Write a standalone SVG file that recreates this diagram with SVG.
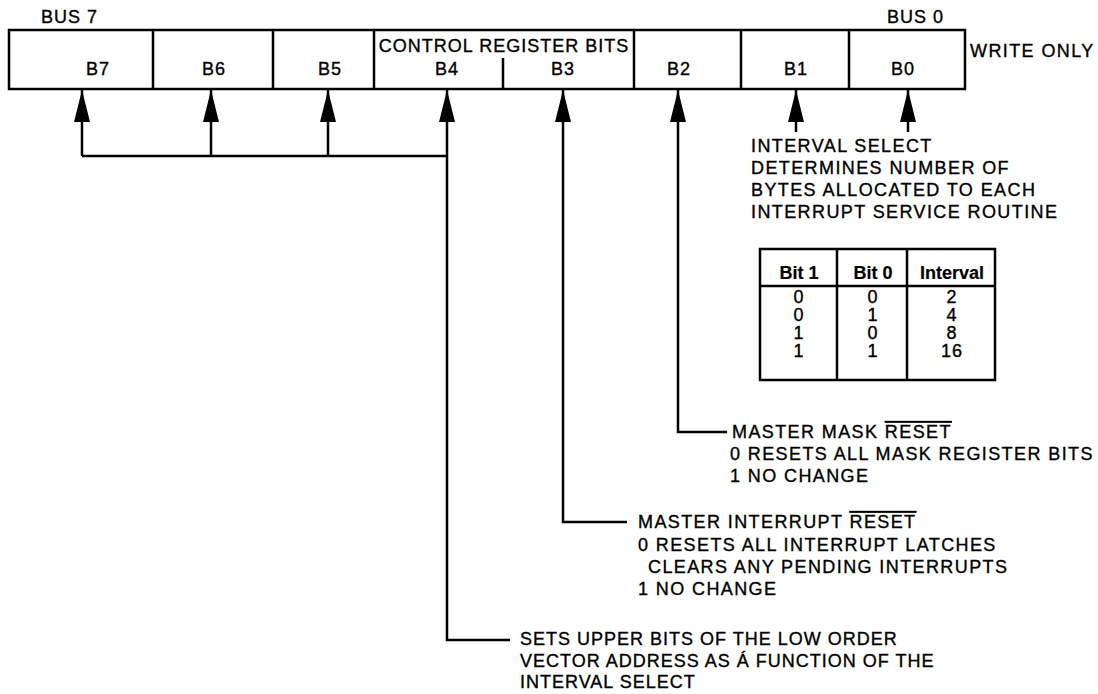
<svg xmlns="http://www.w3.org/2000/svg" width="1098" height="694" viewBox="0 0 1098 694">
<style>
text{font-family:"Liberation Sans",Arial,Helvetica,sans-serif;font-size:18px;fill:#000;stroke:#000;stroke-width:0.35;letter-spacing:1px}
.c{text-anchor:middle}
.b{font-weight:bold;letter-spacing:0;stroke-width:0.2}
.wide{letter-spacing:1.4px}
.box{fill:#fff;stroke:#000;stroke-width:2.5}
.ln{fill:none;stroke:#000;stroke-width:2.5}
.w{fill:none;stroke:#000;stroke-width:2.5}
.ov{text-decoration:overline}
</style>
<defs>
<marker id="ah" markerUnits="userSpaceOnUse" markerWidth="34" markerHeight="18" viewBox="0 -9 34 18" refX="32" refY="0" orient="auto">
<path d="M0,-8 L32,0 L0,8 z" fill="#000"/>
</marker>
</defs>
<rect width="1098" height="694" fill="#fff"/>

<g id="register">
<rect class="box" x="9" y="30" width="956" height="59"/>
<text x="41" y="23">BUS 7</text>
<text x="887" y="23">BUS 0</text>
<text x="970" y="57" class="wide">WRITE ONLY</text>
<text class="c" x="504" y="52">CONTROL REGISTER BITS</text>
</g>
<g id="bit7"><text class="c" x="98" y="75">B7</text></g>
<g id="bit6"><line class="w" x1="153" y1="30" x2="153" y2="89"/><text class="c" x="214" y="75">B6</text></g>
<g id="bit5"><line class="w" x1="273" y1="30" x2="273" y2="89"/><text class="c" x="330" y="75">B5</text></g>
<g id="bit4"><line class="w" x1="374" y1="30" x2="374" y2="89"/><text class="c" x="447" y="75">B4</text></g>
<g id="bit3"><line class="w" x1="503" y1="58" x2="503" y2="89"/><text class="c" x="563" y="75">B3</text></g>
<g id="bit2"><line class="w" x1="634" y1="30" x2="634" y2="89"/><text class="c" x="679" y="75">B2</text></g>
<g id="bit1"><line class="w" x1="741" y1="30" x2="741" y2="89"/><text class="c" x="796" y="75">B1</text></g>
<g id="bit0"><line class="w" x1="849" y1="30" x2="849" y2="89"/><text class="c" x="903" y="75">B0</text></g>

<g id="connectors">
<path class="ln" d="M82,156 V90" marker-end="url(#ah)"/>
<path class="ln" d="M211,156 V90" marker-end="url(#ah)"/>
<path class="ln" d="M328,156 V90" marker-end="url(#ah)"/>
<path class="ln" d="M82,156 H447"/>
<path class="ln" d="M510,640 H447 V90" marker-end="url(#ah)"/>
<path class="ln" d="M627,522 H563 V90" marker-end="url(#ah)"/>
<path class="ln" d="M727,432 H678 V90" marker-end="url(#ah)"/>
<path class="ln" d="M796,132 V90" marker-end="url(#ah)"/>
<path class="ln" d="M908,132 V90" marker-end="url(#ah)"/>
</g>

<g id="interval-select" class="wide">
<text x="751" y="152" class="wide">INTERVAL SELECT</text>
<text x="751" y="174" class="wide">DETERMINES NUMBER OF</text>
<text x="751" y="196" class="wide">BYTES ALLOCATED TO EACH</text>
<text x="751" y="218" class="wide">INTERRUPT SERVICE ROUTINE</text>
</g>

<g id="interval-table">
<rect class="box" x="760" y="249" width="235" height="131"/>
<line class="w" x1="760" y1="286" x2="995" y2="286"/>
<line class="w" x1="837" y1="249" x2="837" y2="380"/>
<line class="w" x1="907" y1="249" x2="907" y2="380"/>
<text class="c b" x="799" y="279">Bit 1</text>
<text class="c b" x="873" y="279">Bit 0</text>
<text class="c b" x="952" y="279">Interval</text>
<text class="c" x="799" y="303">0</text><text class="c" x="873" y="303">0</text><text class="c" x="952" y="303">2</text>
<text class="c" x="799" y="321">0</text><text class="c" x="873" y="321">1</text><text class="c" x="952" y="321">4</text>
<text class="c" x="799" y="339">1</text><text class="c" x="873" y="339">0</text><text class="c" x="952" y="339">8</text>
<text class="c" x="799" y="357">1</text><text class="c" x="873" y="357">1</text><text class="c" x="952" y="357">16</text>
</g>

<g id="master-mask-reset">
<text x="732" y="438" class="wide">MASTER MASK <tspan class="ov">RESET</tspan></text>
<text x="730" y="460" class="wide">0 RESETS ALL MASK REGISTER BITS</text>
<text x="730" y="482" class="wide">1 NO CHANGE</text>
</g>

<g id="master-interrupt-reset">
<text x="638" y="528" class="wide">MASTER INTERRUPT <tspan class="ov">RESET</tspan></text>
<text x="638" y="551" class="wide">0 RESETS ALL INTERRUPT LATCHES</text>
<text x="648" y="573" class="wide">CLEARS ANY PENDING INTERRUPTS</text>
<text x="638" y="595" class="wide">1 NO CHANGE</text>
</g>

<g id="vector-address">
<text x="520" y="645">SETS UPPER BITS OF THE LOW ORDER</text>
<text x="520" y="667">VECTOR ADDRESS AS Á FUNCTION OF THE</text>
<text x="520" y="688">INTERVAL SELECT</text>
</g>
</svg>
